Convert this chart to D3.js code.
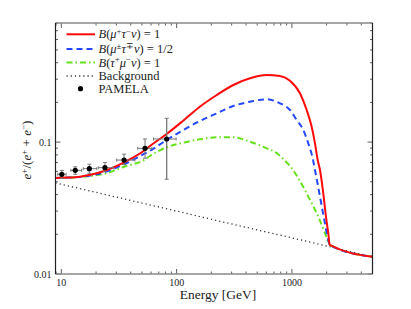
<!DOCTYPE html>
<html><head><meta charset="utf-8">
<script src="https://cdn.jsdelivr.net/npm/d3@7"></script>
</head><body style="margin:0"><svg id="c" width="411" height="309"></svg>
<script>
// ---- data ----
const redE   = [8.9,10.1,13.1,17.5,23.9,35,53.2,58.7,82,114,159,223,310,433,604,788,962,1175,1343,1484,1585,1673,1752,1871,1974,2067,2130,5000];
const redY   = [0.0535,0.0537,0.0541,0.0563,0.0607,0.0703,0.0871,0.0934,0.1152,0.1453,0.1855,0.2276,0.271,0.3045,0.3225,0.317,0.292,0.2345,0.1751,0.1309,0.0979,0.0731,0.0614,0.0409,0.0272,0.0204,0.0166,0.0135];
const blueE  = [8.9,10.1,13.1,17.5,23.9,35,53.2,58.7,82,114,159,223,310,433,604,788,962,1100,1255,1387,1514,1585,1752,1909,2067,2130,5000];
const blueY  = [0.0535,0.0537,0.054,0.0556,0.0593,0.0679,0.082,0.0859,0.1037,0.1235,0.1445,0.1653,0.1878,0.2025,0.2112,0.1969,0.1751,0.1471,0.1235,0.0979,0.0753,0.0614,0.0386,0.0257,0.0181,0.0166,0.0135];
const greenE = [8.9,10.1,13.1,17.5,23.9,35,53.2,58.7,82,114,159,223,310,433,604,738,842,962,1175,1435,1693,1935,2130,5000];
const greenY = [0.0535,0.0537,0.054,0.0553,0.0576,0.065,0.074,0.0785,0.0913,0.099,0.105,0.1088,0.1088,0.1007,0.0897,0.0825,0.0744,0.0659,0.0507,0.0364,0.0272,0.0204,0.0166,0.0135];
const bgE    = [8.9,20,50,100,200,500,1000,2000,5000];
const bgY    = [0.0490,0.0416,0.0345,0.0300,0.0260,0.0216,0.0188,0.0163,0.0135];
// PAMELA points
const pamE   = [10.1,13.2,17.5,23.9,35.0,53.2,82.0];
const pamElo = [9.3,12.1,15.5,20.9,30.2,46.0,63.0];
const pamEhi = [11.0,15.0,20.3,28.2,43.5,61.0,99.0];
const pamY   = [0.0570,0.0611,0.0629,0.0640,0.0731,0.0897,0.1056];
const pamYlo = [0.0530,0.0570,0.0580,0.0596,0.0677,0.0755,0.0523];
const pamYhi = [0.0610,0.0650,0.0680,0.0699,0.0810,0.1057,0.1515];
const xTicks = [10,100,1000];
const xTickLabels = ["10","100","1000"];
const yTicks = [0.01,0.1];
const yTickLabels = ["0.01","0.1"];
// legend labels: [text, style] pieces (i = italic, sup = superscript)
const legendLabels = [
  [["B","i"],["("],["μ","i"],["+","sup"],["τ","i"],["−","sup"],["ν","i"],[") = 1"]],
  [["B","i"],["("],["μ","i"],["±","sup"],["τ","i"],["∓","sup"],["ν","i"],[") = 1/2"]],
  [["B","i"],["("],["τ","i"],["+","sup"],["μ","i"],["−","sup"],["ν","i"],[") = 1"]],
  [["Background"]],
  [["PAMELA"]]
];

const FONT='"Liberation Serif", "Times New Roman", Times';
// ---- layout ----
const L=55.5,R=372.5,T=23,B=274;
const x=d3.scaleLog().domain([8.9,5000]).range([L,R]);
const y=d3.scaleLog().domain([0.01,0.8]).range([B,T]);
const svg=d3.select("#c");
svg.append("clipPath").attr("id","clp").append("rect").attr("x",L).attr("y",T).attr("width",R-L).attr("height",B-T);

const line=d3.line().x(d=>x(d[0])).y(d=>y(d[1])).curve(d3.curveMonotoneX);
const lineLin=d3.line().x(d=>x(d[0])).y(d=>y(d[1]));
const zip=(a,b)=>a.map((v,i)=>[v,b[i]]);
const cg=svg.append("g").attr("clip-path","url(#clp)");

const RED="#ff0a0a",BLUE="#2448ff",GREEN="#66e01a",BG="#333";
cg.append("path").attr("d",lineLin(zip(bgE,bgY))).attr("fill","none").attr("stroke",BG).attr("stroke-width",1.3).attr("stroke-dasharray","1.2,3");
cg.append("path").attr("d",line(zip(greenE,greenY))).attr("fill","none").attr("stroke",GREEN).attr("stroke-width",2).attr("stroke-dasharray","6,3,1.5,3");
cg.append("path").attr("d",line(zip(blueE,blueY))).attr("fill","none").attr("stroke",BLUE).attr("stroke-width",2).attr("stroke-dasharray","6,4");
cg.append("path").attr("d",line(zip(redE,redY))).attr("fill","none").attr("stroke",RED).attr("stroke-width",2);

// PAMELA error bars + points
const eb=svg.append("g").attr("stroke","#777").attr("stroke-width",1);
pamE.forEach((e,i)=>{
  const cx=x(e),cy=y(pamY[i]);
  eb.append("line").attr("x1",x(pamElo[i])).attr("x2",x(pamEhi[i])).attr("y1",cy).attr("y2",cy);
  eb.append("line").attr("x1",x(pamElo[i])).attr("x2",x(pamElo[i])).attr("y1",cy-1.5).attr("y2",cy+1.5);
  eb.append("line").attr("x1",x(pamEhi[i])).attr("x2",x(pamEhi[i])).attr("y1",cy-1.5).attr("y2",cy+1.5);
  eb.append("line").attr("x1",cx).attr("x2",cx).attr("y1",y(pamYlo[i])).attr("y2",y(pamYhi[i])).attr("stroke-width",i==6?1.3:1);
  eb.append("line").attr("x1",cx-2).attr("x2",cx+2).attr("y1",y(pamYlo[i])).attr("y2",y(pamYlo[i]));
  eb.append("line").attr("x1",cx-2).attr("x2",cx+2).attr("y1",y(pamYhi[i])).attr("y2",y(pamYhi[i]));
});
svg.selectAll("circle.p").data(pamE).enter().append("circle").attr("cx",d=>x(d)).attr("cy",(d,i)=>y(pamY[i])).attr("r",2.6).attr("fill","#000");

// ---- axes (ticks inward) ----
const xMinor=[9];[10,100,1000].forEach(d=>{for(let k=1;k<10;k++){const v=d*k;if(v>=8.9&&v<=5000)xMinor.push(v);}});
const yMinor=[];[0.01,0.1].forEach(d=>{for(let k=1;k<10;k++){const v=+(d*k).toFixed(3);if(v<=0.8)yMinor.push(v);}});
const ax=svg.append("g").attr("stroke","#333").attr("stroke-width",0.8);
xMinor.forEach(v=>{const major=xTicks.includes(v);const len=major?5:2.5;
  ax.append("line").attr("x1",x(v)).attr("x2",x(v)).attr("y1",B).attr("y2",B-len);
  ax.append("line").attr("x1",x(v)).attr("x2",x(v)).attr("y1",T).attr("y2",T+len);});
yMinor.forEach(v=>{const major=yTicks.includes(v);const len=major?5:2.5;
  ax.append("line").attr("x1",L).attr("x2",L+len).attr("y1",y(v)).attr("y2",y(v));
  ax.append("line").attr("x1",R).attr("x2",R-len).attr("y1",y(v)).attr("y2",y(v));});
// frame
svg.append("line").attr("x1",L).attr("x2",R).attr("y1",T).attr("y2",T).attr("stroke","#888").attr("stroke-width",1.6);
svg.append("line").attr("x1",L).attr("x2",R).attr("y1",B).attr("y2",B).attr("stroke","#888").attr("stroke-width",1.6);
svg.append("line").attr("x1",L).attr("x2",L).attr("y1",T).attr("y2",B).attr("stroke","#222").attr("stroke-width",1.2);
svg.append("line").attr("x1",R).attr("x2",R).attr("y1",T).attr("y2",B).attr("stroke","#222").attr("stroke-width",1.2);

// tick labels
xTicks.forEach((d,i)=>svg.append("text").attr("x",x(d)).attr("y",285.5).attr("font-size",10).style("font-family",FONT).attr("text-anchor","middle").attr("fill","#222").text(xTickLabels[i]));
yTicks.forEach((d,i)=>svg.append("text").attr("x",51.5).attr("y",y(d)+3.5).attr("font-size",10).style("font-family",FONT).attr("text-anchor","end").attr("fill","#222").text(yTickLabels[i]));

// rich text helper
function rich(t,parts,fs){
  let up=false;
  parts.forEach(p=>{
    const s=t.append("tspan").text(p[0]);
    if(p[1]==="i")s.attr("font-style","italic");
    if(p[1]==="sup"){s.attr("dy",-4.5).attr("font-size",fs*0.7);up=true;}
    else if(up){s.attr("dy",4.5);up=false;}
  });
}
// axis titles
svg.append("text").attr("x",218).attr("y",299).attr("font-size",13.5).style("font-family",FONT).attr("text-anchor","middle").attr("fill","#222").text("Energy [GeV]");
const yl=svg.append("text").attr("transform","translate(31,150) rotate(-90)").attr("font-size",13).style("font-family",FONT).attr("text-anchor","middle").attr("fill","#222");
rich(yl,[["e","i"],["+","sup"],["/("],["e","i"],["+","sup"],[" + "],["e","i"],["−","sup"],[")"]],13);

// ---- legend ----
const ly=[34.3,49,62.5,76,88.7];
const styles=[{c:RED,d:null,w:2},{c:BLUE,d:"6,4",w:2},{c:GREEN,d:"6,3,1.5,3",w:2},{c:BG,d:"1.2,3",w:1.3}];
styles.forEach((s,i)=>{svg.append("line").attr("x1",66.5).attr("x2",95).attr("y1",ly[i]).attr("y2",ly[i]).attr("stroke",s.c).attr("stroke-width",s.w).attr("stroke-dasharray",s.d);});
svg.append("circle").attr("cx",80.5).attr("cy",ly[4]).attr("r",2.6).attr("fill","#000");
legendLabels.forEach((parts,i)=>{
  const t=svg.append("text").attr("x",98.5).attr("y",ly[i]+4).attr("font-size",12.5).style("font-family",FONT).attr("fill","#222");
  rich(t,parts,12.5);
});
</script>
</body></html>
